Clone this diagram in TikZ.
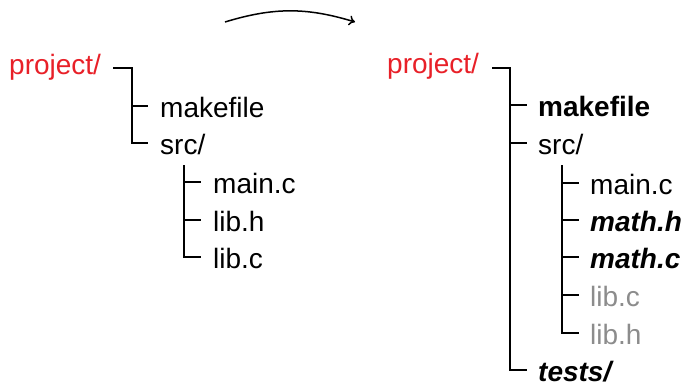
\documentclass[tikz,border=0pt]{standalone}
\usepackage{fontspec}
\setmainfont{Liberation Sans}
\usetikzlibrary{arrows.meta}
\definecolor{dirred}{RGB}{232,32,40}
\definecolor{oldgray}{RGB}{140,140,140}
\tikzset{
  item/.style={anchor=west,inner sep=0pt,text height=25.2pt,text depth=2.8pt,font=\fontsize{28}{34}\selectfont},
  dir/.style={item,text=dirred},
  new/.style={item,font=\fontsize{28}{34}\selectfont\bfseries\itshape},
  chg/.style={item,font=\fontsize{28}{34}\selectfont\bfseries},
  old/.style={item,text=oldgray},
  tree/.style={line width=2.6pt,line cap=butt,line join=miter},
  flow/.style={line width=1.5pt,-{To[length=6pt,width=10pt]}}
}
\begin{document}
\begin{tikzpicture}[x=1pt,y=-1pt]
\useasboundingbox (0,0) rectangle (688,381);
% left tree
\node[dir] (L0) at (9,63) {project/};
\node[item] (L1) at (160,106) {makefile};
\node[item] (L2) at (160,143) {src/};
\node[item] (L3) at (213,182) {main.c};
\node[item] (L4) at (213,220) {lib.h};
\node[item] (L5) at (213,257) {lib.c};
\draw[tree] ([shift={(12pt,-5pt)}]L0.east) -| ([xshift=-28pt]L2.west) -- ([xshift=-12pt]L2.west);
\draw[tree] ([xshift=-28pt]L1.west) -- ([xshift=-12pt]L1.west);
\draw[tree] ([shift={(24pt,-22pt)}]L2.west) |- ([xshift=-12pt]L5.west);
\draw[tree] ([xshift=-29pt]L3.west) -- ([xshift=-12pt]L3.west);
\draw[tree] ([xshift=-29pt]L4.west) -- ([xshift=-12pt]L4.west);
% arrow
\coordinate (a1) at (225,22);
\coordinate (a2) at (355,22);
\draw[flow] (a1) to[bend left=17] (a2);
% right tree
\node[dir] (R0) at (387,62) {project/};
\node[chg] (R1) at (538,105) {makefile};
\node[item] (R2) at (538,143) {src/};
\node[item] (R3) at (590,183) {main.c};
\node[new] (R4) at (590,220) {math.h};
\node[new] (R5) at (590,257) {math.c};
\node[old] (R6) at (590,295) {lib.c};
\node[old] (R7) at (590,333) {lib.h};
\node[new] (R8) at (538,370) {tests/};
\draw[tree] ([shift={(13pt,-6pt)}]R0.east) -| ([xshift=-28pt]R8.west) -- ([xshift=-11pt]R8.west);
\draw[tree] ([xshift=-28pt]R1.west) -- ([xshift=-11pt]R1.west);
\draw[tree] ([xshift=-28pt]R2.west) -- ([xshift=-11pt]R2.west);
\draw[tree] ([shift={(24pt,-22pt)}]R2.west) |- ([xshift=-11pt]R7.west);
\foreach \n in {R3,R4,R5,R6}
  \draw[tree] ([xshift=-28pt]\n.west) -- ([xshift=-11pt]\n.west);
\end{tikzpicture}
\end{document}
